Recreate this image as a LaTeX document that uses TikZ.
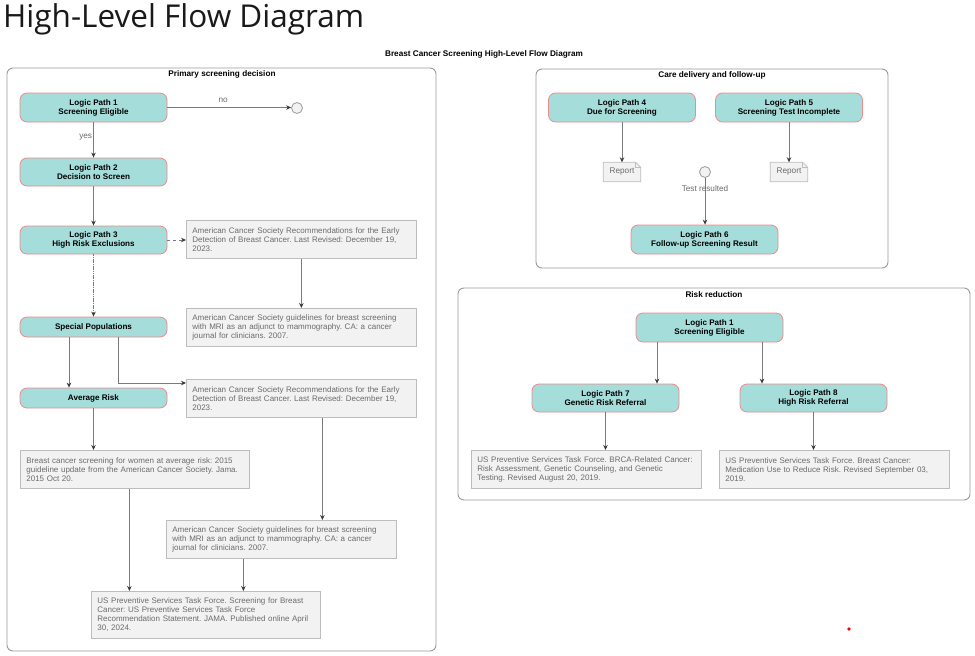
\documentclass[tikz,border=0pt]{standalone}
\usepackage{fontspec}
\setmainfont{Liberation Sans}
\newfontfamily\titlefont{Open Sans}
\usetikzlibrary{arrows.meta,calc}
\definecolor{teal1}{HTML}{A5DDDA}
\definecolor{tealbd}{HTML}{EE8A8A}
\definecolor{contbd}{HTML}{9A9A9A}
\definecolor{reffill}{HTML}{F2F2F2}
\definecolor{refbd}{HTML}{BDBDBD}
\definecolor{reftext}{HTML}{6B6B6B}
\definecolor{linec}{HTML}{7A7A7A}
\definecolor{headc}{HTML}{3A3A3A}
\frenchspacing
\begin{document}
\begin{tikzpicture}[x=1pt,y=-1pt,
  cont/.style={draw=contbd, line width=0.9pt, rounded corners=6pt},
  conttitle/.style={font=\fontsize{8.2}{9}\selectfont\bfseries, text=black, inner sep=0pt},
  lp/.style={draw=tealbd, fill=teal1, rounded corners=7pt, line width=0.8pt, align=center,
     font=\fontsize{8.1}{9}\selectfont\bfseries, text=black, minimum width=147pt, inner sep=0pt},
  refbox/.style={draw=refbd, fill=reffill, line width=0.8pt, align=left, anchor=north west,
     font=\fontsize{8}{9}\selectfont, text=reftext, inner xsep=6pt, inner ysep=3pt},
  endc/.style={circle, draw=contbd, fill=reffill, minimum size=11pt, inner sep=0pt, line width=0.8pt},
  report/.style={minimum width=37pt, minimum height=19pt, inner sep=0pt, font=\fontsize{8.2}{9}\selectfont, text=reftext},
  arr/.style={draw=linec, line width=0.9pt, -{Stealth[length=5pt,width=4.5pt,color=headc]}},
  lbl/.style={font=\fontsize{8.2}{9}\selectfont, text=reftext, inner sep=0pt}
]
\useasboundingbox (0,0) rectangle (975,656);
\fill[white] (0,0) rectangle (975,656);

% titles
\node[anchor=west, inner sep=0pt, font=\titlefont\fontsize{31.5}{34}\selectfont, text=black!90] (maintitle) at (3,19) {High-Level Flow Diagram};
\node[inner sep=0pt, font=\fontsize{8.2}{9}\selectfont\bfseries] (subtitle) at (484,54) {Breast Cancer Screening High-Level Flow Diagram};

% containers
\draw[cont] (7,68) rectangle (436,651);
\node[conttitle] (t1) at (222,74) {Primary screening decision};
\draw[cont] (536,69) rectangle (888,268);
\node[conttitle] (t2) at (712,75) {Care delivery and follow-up};
\draw[cont] (458,288) rectangle (970,500);
\node[conttitle] (t3) at (714,295) {Risk reduction};

% ---- Primary screening decision
\node[lp, minimum height=29pt] (lp1) at (93.5,107.5) {Logic Path 1\\Screening Eligible};
\node[endc] (end1) at (297,108) {};
\node[lp, minimum height=28pt] (lp2) at (93.5,172) {Logic Path 2\\Decision to Screen};
\node[lp, minimum height=28pt] (lp3) at (93.5,240) {Logic Path 3\\High Risk Exclusions};
\node[lp, minimum height=20pt] (sp) at (93.5,327) {Special Populations};
\node[lp, minimum height=20pt] (avg) at (93.5,398) {Average Risk};

\node[refbox, text width=218pt, minimum height=38pt] (a1) at (186,220) {American Cancer Society Recommendations for the Early\\Detection of Breast Cancer. Last Revised: December 19,\\2023.};
\node[refbox, text width=218pt, minimum height=38pt] (a2) at (186,308) {American Cancer Society guidelines for breast screening\\with MRI as an adjunct to mammography. CA: a cancer\\journal for clinicians. 2007.};
\node[refbox, text width=218pt, minimum height=38pt] (a3) at (186,379) {American Cancer Society Recommendations for the Early\\Detection of Breast Cancer. Last Revised: December 19,\\2023.};
\node[refbox, text width=217pt, minimum height=38pt] (b1) at (20,450) {Breast cancer screening for women at average risk: 2015\\guideline update from the American Cancer Society. Jama.\\2015 Oct 20.};
\node[refbox, text width=218pt, minimum height=38pt] (a4) at (166,520) {American Cancer Society guidelines for breast screening\\with MRI as an adjunct to mammography. CA: a cancer\\journal for clinicians. 2007.};
\node[refbox, text width=217pt, minimum height=47pt] (c1) at (91,591) {US Preventive Services Task Force. Screening for Breast\\Cancer: US Preventive Services Task Force\\Recommendation Statement. JAMA. Published online April\\30, 2024.};

\draw[arr] (lp1.east) -- node[lbl, above=4pt, pos=0.45] {no} (lp1.east -| end1.west);
\draw[arr] (lp1.south) -- node[lbl, left=1pt, pos=0.42] {yes} (lp2.north);
\draw[arr] (lp2.south) -- (lp3.north);
\draw[arr, dashed] (lp3.east) -- (lp3.east -| a1.west);
\draw[arr] (a1.south) -- (a2.north);
\draw[arr, dash pattern=on 1.6pt off 0.7pt] (lp3.south) -- (sp.north);
\coordinate (s1) at ([xshift=-24.5pt]sp.south);
\draw[arr] (s1) -- (s1 |- avg.north);
\coordinate (s2) at ([xshift=24.5pt]sp.south);
\draw[arr] (s2) |- ([yshift=-4pt]a3.north west);
\draw[arr] (avg.south) -- (avg.south |- b1.north);
\coordinate (k1) at ([xshift=21pt]a3.south);
\draw[arr] (k1) -- (k1 |- a4.north);
\coordinate (k2) at ([xshift=-5.5pt]b1.south);
\draw[arr] (k2) -- (k2 |- c1.north);
\coordinate (k3) at ([xshift=-38pt]a4.south);
\draw[arr] (k3) -- (k3 |- c1.north);

% ---- Care delivery
\node[lp, minimum height=29pt] (lp4) at (622,107.5) {Logic Path 4\\Due for Screening};
\node[lp, minimum height=29pt] (lp5) at (789,107.5) {Logic Path 5\\Screening Test Incomplete};
\node[lp, minimum height=29pt] (lp6) at (704.5,239.5) {Logic Path 6\\Follow-up Screening Result};
\node[report] (rep1) at (622,172) {};
\node[report] (rep2) at (789,172) {};
\foreach \r in {rep1,rep2}{
  \filldraw[draw=refbd, fill=reffill, line width=0.8pt] (\r.south west) -- (\r.north west) -- ([xshift=-5pt]\r.north east) -- ([yshift=-5pt]\r.north east) -- (\r.south east) -- cycle;
  \draw[draw=refbd, line width=0.8pt] ([xshift=-5pt]\r.north east) -- ([xshift=-5pt,yshift=-5pt]\r.north east) -- ([yshift=-5pt]\r.north east);
}
\node[report] (rep1t) at (rep1) {Report};
\node[report] (rep2t) at (rep2) {Report};
\node[endc] (end2) at (705,172) {};

\draw[arr] (lp4.south) -- (rep1.north);
\draw[arr] (lp5.south) -- (rep2.north);
\draw[arr] (end2.south) -- node[lbl, pos=0.22] {Test resulted} (end2.south |- lp6.north);

% ---- Risk reduction
\node[lp, minimum height=29pt] (lp1b) at (709.5,327.5) {Logic Path 1\\Screening Eligible};
\node[lp, minimum height=28pt] (lp7) at (605.5,398) {Logic Path 7\\Genetic Risk Referral};
\node[lp, minimum height=28pt] (lp8) at (813.5,398) {Logic Path 8\\High Risk Referral};
\node[refbox, text width=218pt, minimum height=38pt] (r1) at (471,450) {US Preventive Services Task Force. BRCA-Related Cancer:\\Risk Assessment, Genetic Counseling, and Genetic\\Testing. Revised August 20, 2019.};
\node[refbox, text width=218pt, minimum height=38pt] (r2) at (719,450) {US Preventive Services Task Force. Breast Cancer:\\Medication Use to Reduce Risk. Revised September 03,\\2019.};

\coordinate (m1) at ([xshift=-52.5pt]lp1b.south);
\draw[arr] (m1) -- (m1 |- lp7.north);
\coordinate (m2) at ([xshift=52.5pt]lp1b.south);
\draw[arr] (m2) -- (m2 |- lp8.north);
\draw[arr] (lp7.south) -- (lp7.south |- r1.north);
\draw[arr] (lp8.south) -- (lp8.south |- r2.north);

% red dot
\fill[red] (849,629) circle (1.8pt);
\end{tikzpicture}
\end{document}
